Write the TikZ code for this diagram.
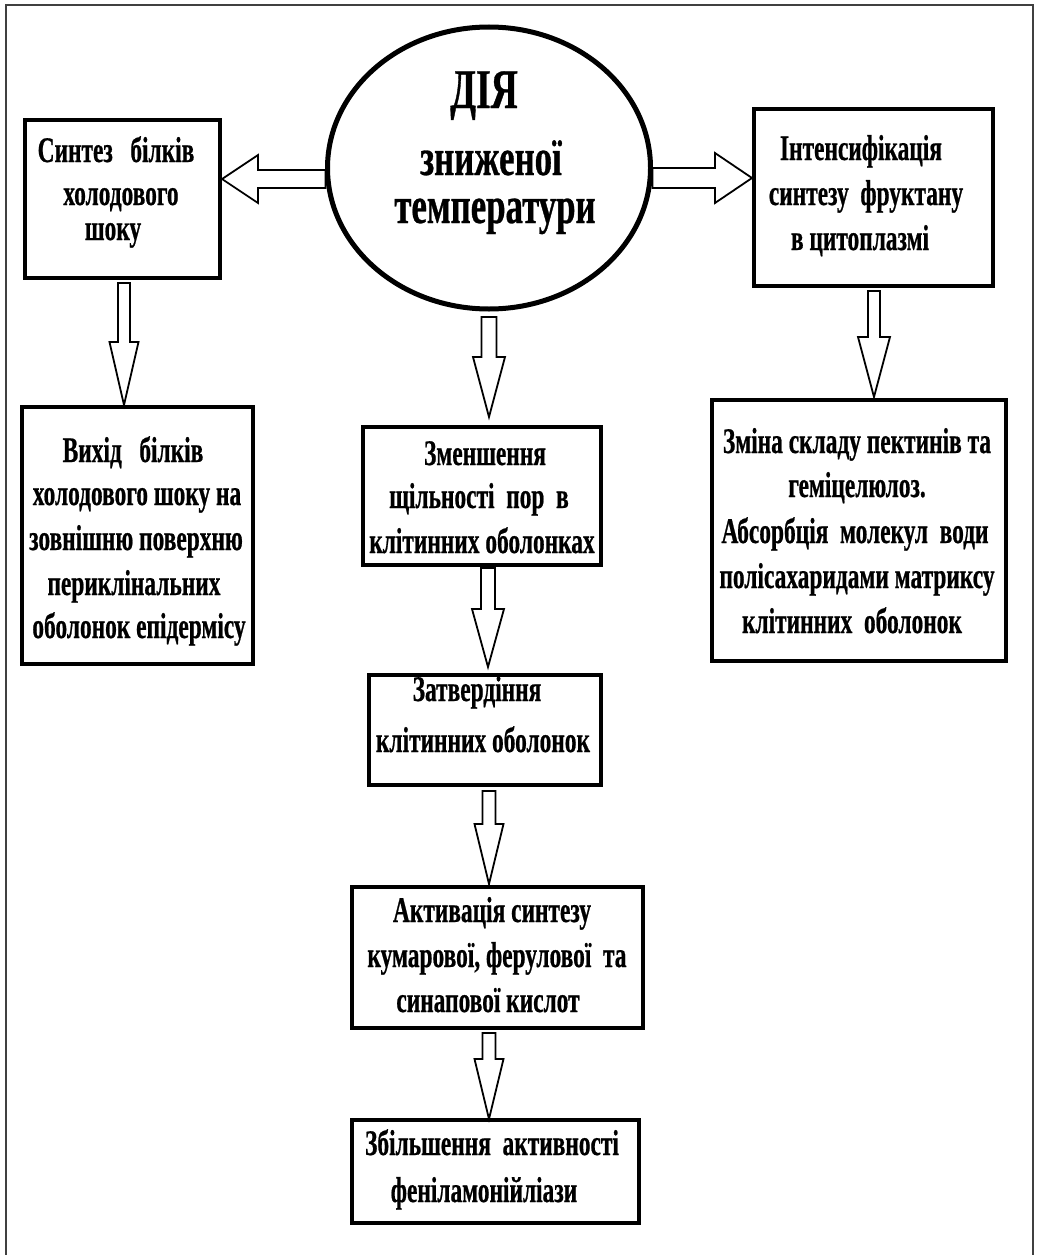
\documentclass[tikz,border=0pt]{standalone}
\usepackage{fontspec}
\newfontfamily\bfc{Liberation Serif Bold}[FakeStretch=0.65,FakeBold=0.6]
\newfontfamily\bfe{Liberation Serif Bold}[FakeStretch=0.67,FakeBold=0.6]
\usetikzlibrary{calc,shapes.geometric}
\tikzset{
  box/.style={draw, line width=4pt, rectangle, inner sep=0pt, outer sep=0pt},
  oval/.style={draw, line width=5pt, ellipse, inner sep=0pt, outer sep=0pt},
  txt/.style={anchor=base, inner sep=0pt, font=\bfc\fontsize{36}{40}\selectfont},
  bigtxt/.style={anchor=base, inner sep=0pt, font=\bfe\fontsize{52}{56}\selectfont},
  blk/.style={draw, fill=white, line width=1.8pt, line join=miter},
  frame/.style={draw=black!75, line width=1.5pt}
}
% vertical block arrow: start, tip, shaft half width, head half width, head length
\newcommand\vblk[5]{\draw[blk] ($(#1)+(-#3,0)$) -- ($(#2)+(-#3,-#5)$) -- ($(#2)+(-#4,-#5)$) -- (#2) -- ($(#2)+(#4,-#5)$) -- ($(#2)+(#3,-#5)$) -- ($(#1)+(#3,0)$) -- cycle;}
% horizontal block arrow: start, tip, shaft half width, head half width, signed head length
\newcommand\hblk[5]{\draw[blk] ($(#1)+(0,-#3)$) -- ($(#2)+(#5,-#3)$) -- ($(#2)+(#5,-#4)$) -- (#2) -- ($(#2)+(#5,#4)$) -- ($(#2)+(#5,#3)$) -- ($(#1)+(0,#3)$) -- cycle;}
\begin{document}
\begin{tikzpicture}[x=1pt,y=-1pt]
\useasboundingbox (0,0) rectangle (1037,1255);
\draw[frame] (6,1255) -- (6,5) -- (1033,5) -- (1033,1255);

% central ellipse
\node[oval, minimum width=323pt, minimum height=282pt] (dia) at (489,168) {};
\node[bigtxt, font=\bfe\fontsize{56}{60}\selectfont] (diat1) at (484,108) {ДІЯ};
\node[bigtxt] (diat2) at (491,175) {зниженої};
\node[bigtxt] (diat3) at (495,223) {температури};

% boxes
\node[box, minimum width=195pt, minimum height=158pt] (b1) at (122.5,199) {};
\node[box, minimum width=231pt, minimum height=257pt] (b2) at (137.5,535.5) {};
\node[box, minimum width=238pt, minimum height=138pt] (b3) at (482,496) {};
\node[box, minimum width=232pt, minimum height=110pt] (b4) at (485,730) {};
\node[box, minimum width=291pt, minimum height=141pt] (b5) at (497.5,957.5) {};
\node[box, minimum width=287pt, minimum height=103pt] (b6) at (495.5,1171.5) {};
\node[box, minimum width=239pt, minimum height=177pt] (r1) at (873.5,197.5) {};
\node[box, minimum width=294pt, minimum height=261pt] (r2) at (859,530.5) {};

% texts
\node[txt] (b1t1) at (116,162) {Синтез\ \ \ білків};
\node[txt] (b1t2) at (121,205) {холодового};
\node[txt] (b1t3) at (113,240) {шоку};

\node[txt] (b2t1) at (133,462) {Вихід\ \ \ білків};
\node[txt] (b2t2) at (137,505) {холодового шоку на};
\node[txt] (b2t3) at (136,550) {зовнішню поверхню};
\node[txt] (b2t4) at (134,595) {периклінальних};
\node[txt] (b2t5) at (139,638) {оболонок епідермісу};

\node[txt] (b3t1) at (485,465) {Зменшення};
\node[txt] (b3t2) at (479,508) {щільності\ \ пор\ \ в};
\node[txt] (b3t3) at (482,553) {клітинних оболонках};

\node[txt] (b4t1) at (477,701) {Затвердіння};
\node[txt] (b4t2) at (483,752) {клітинних оболонок};

\node[txt] (b5t1) at (492,922) {Активація синтезу};
\node[txt] (b5t2) at (497,967) {кумарової, ферулової\ \ та};
\node[txt] (b5t3) at (488,1012) {синапової кислот};

\node[txt] (b6t1) at (492,1155) {Збільшення\ \ активності};
\node[txt] (b6t2) at (484,1202) {феніламонійліази};

\node[txt] (r1t1) at (861,160) {Інтенсифікація};
\node[txt] (r1t2) at (866,205) {синтезу\ \ фруктану};
\node[txt] (r1t3) at (860,250) {в цитоплазмі};

\node[txt] (r2t1) at (857,453) {Зміна складу пектинів та};
\node[txt] (r2t2) at (857,497) {геміцелюлоз.};
\node[txt] (r2t3) at (855,543) {Абсорбція\ \ молекул\ \ води};
\node[txt] (r2t4) at (857,588) {полісахаридами матриксу};
\node[txt] (r2t5) at (852,633) {клітинних\ \ оболонок};

% arrow coordinates
\coordinate (h1s) at ($(dia.west)+(-2,11)$);
\coordinate (h1e) at ($(h1s -| b1.east)+(2,0)$);
\coordinate (h2s) at ($(dia.east)+(2,10)$);
\coordinate (h2e) at ($(h2s -| r1.west)+(-2,0)$);
\coordinate (a1s) at ($(b1.south)+(1.5,5)$);
\coordinate (a1e) at ($(a1s |- b2.north)+(0,-2)$);
\coordinate (a2s) at ($(dia.south)+(0,8)$);
\coordinate (a2e) at ($(a2s |- b3.north)+(0,-10)$);
\coordinate (a3s) at ($(b3.south)+(6,3)$);
\coordinate (a3e) at ($(a3s |- b4.north)+(0,-8)$);
\coordinate (a4s) at ($(b4.south)+(4,6)$);
\coordinate (a4e) at ($(a4s |- b5.north)+(0,-3)$);
\coordinate (a5s) at ($(b5.south)+(-8.5,5)$);
\coordinate (a5e) at ($(a5s |- b6.north)+(0,-1)$);
\coordinate (a6s) at ($(r1.south)+(0.5,5)$);
\coordinate (a6e) at ($(a6s |- r2.north)+(0,-3)$);

% block arrows
\hblk{h1s}{h1e}{9}{24}{36}
\hblk{h2s}{h2e}{10}{25}{-37}
\vblk{a1s}{a1e}{6}{14.5}{63}
\vblk{a2s}{a2e}{7.5}{16}{60}
\vblk{a3s}{a3e}{7}{16}{58}
\vblk{a4s}{a4e}{6.5}{14.5}{60}
\vblk{a5s}{a5e}{6.5}{14.5}{60}
\vblk{a6s}{a6e}{6}{16}{60}
\end{tikzpicture}
\end{document}
